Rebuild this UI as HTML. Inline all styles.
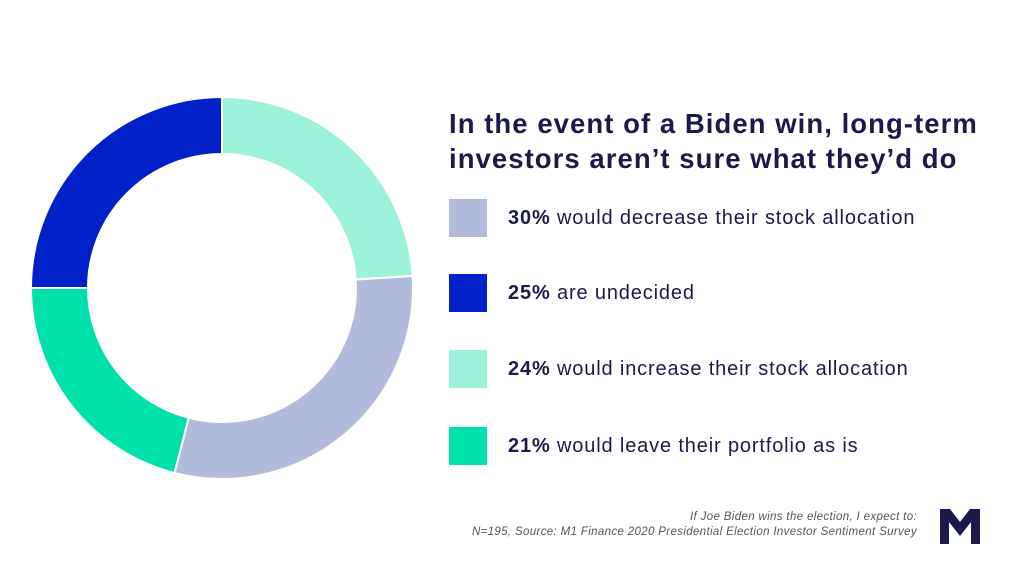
<!DOCTYPE html>
<html><head><meta charset="utf-8"><style>
body{margin:0;width:1024px;height:576px;background:#fff;overflow:hidden;font-family:"Liberation Sans",sans-serif;color:#1b1a4a;position:relative}
.t{position:absolute;left:449px;top:106px;font-size:27.5px;font-weight:bold;line-height:35px;letter-spacing:1.05px;white-space:nowrap}
.li{position:absolute;left:449px;height:38px;display:flex;align-items:center;white-space:nowrap}
.sw{width:38px;height:38px;margin-right:21px}
.lt{font-size:20px;letter-spacing:0.85px}
.fn{position:absolute;right:107px;top:510px;font-size:11.5px;font-style:italic;color:#555;text-align:right;line-height:15px;letter-spacing:0.35px;white-space:nowrap}
</style></head><body>
<svg width="1024" height="576" style="position:absolute;left:0;top:0" id="svg"></svg>
<div class="t">In the event of a Biden win, long-term<br>investors aren’t sure what they’d do</div>
<div id="legend"></div>
<div class="fn">If Joe Biden wins the election, I expect to:<br>N=195, Source: M1 Finance 2020 Presidential Election Investor Sentiment Survey</div>
<svg style="position:absolute;left:940px;top:509px" width="40" height="35" viewBox="0 0 40 35"><path d="M0 0h10l10 13 10-13h10v35h-9V13L20 27 9 13v22H0z" fill="#1b1a4a"/></svg>
<script>
const labels=["would increase their stock allocation","would decrease their stock allocation","would leave their portfolio as is","are undecided"];
const values=[24,30,21,25];
const colors=["#9df2da","#b3bbdc","#00e0aa","#0020c8"];
const legendOrder=[1,3,0,2];
const svg=document.getElementById('svg');
const cx=222,cy=288,R=191,r=134;
const total=values.reduce((a,b)=>a+b,0);
function pt(a,rad){return [cx+rad*Math.sin(a),cy-rad*Math.cos(a)];}
let acc=0;
values.forEach((v,i)=>{
 const a0=acc/total*2*Math.PI;acc+=v;const a1=acc/total*2*Math.PI;
 const lg=(a1-a0)>Math.PI?1:0;
 const p0=pt(a0,R),p1=pt(a1,R),p2=pt(a1,r),p3=pt(a0,r);
 const p=document.createElementNS('http://www.w3.org/2000/svg','path');
 p.setAttribute('d',`M${p0}A${R},${R} 0 ${lg} 1 ${p1}L${p2}A${r},${r} 0 ${lg} 0 ${p3}Z`);
 p.setAttribute('fill',colors[i]);p.setAttribute('stroke','#fff');p.setAttribute('stroke-width','2');
 
 
 svg.appendChild(p);
});
const lg=document.getElementById('legend');
const tops=[199,274,350,427];
legendOrder.forEach((i,k)=>{
 const d=document.createElement('div');d.className='li';d.style.top=tops[k]+'px';
 
 
 d.innerHTML=`<div class="sw" style="background:${colors[i]}"></div><div class="lt"><b>${values[i]}%</b> ${labels[i]}</div>`;
 lg.appendChild(d);
});
</script>
</body></html>
